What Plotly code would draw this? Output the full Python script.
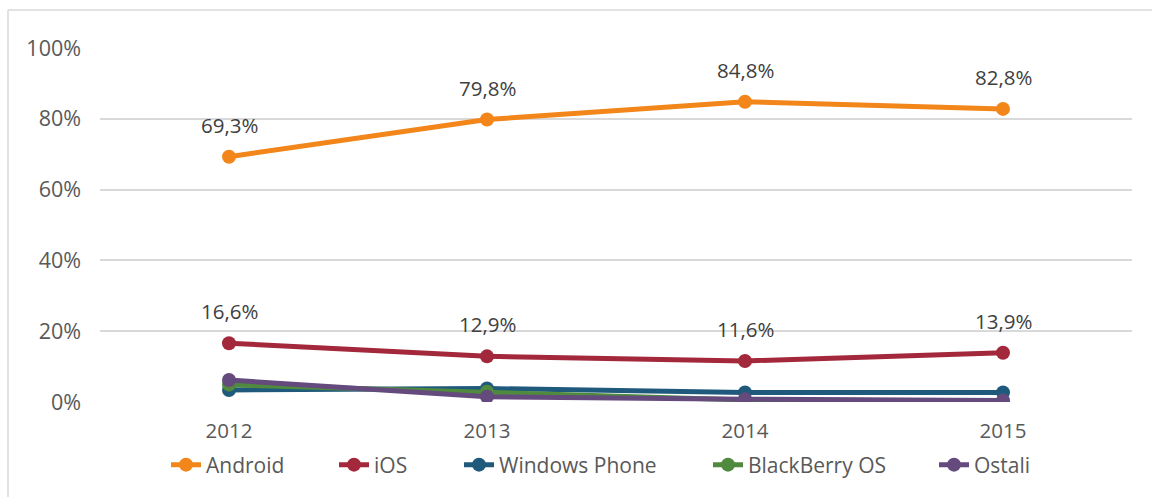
import plotly.graph_objects as go

years = ["2012", "2013", "2014", "2015"]
android = [69.3, 79.8, 84.8, 82.8]
ios = [16.6, 12.9, 11.6, 13.9]
windows_phone = [3.4, 3.8, 2.7, 2.7]
blackberry = [4.9, 2.9, 0.6, 0.3]
ostali = [6.2, 1.5, 0.8, 0.4]

series_names = ["Android", "iOS", "Windows Phone", "BlackBerry OS", "Ostali"]
series_values = [android, ios, windows_phone, blackberry, ostali]
series_colors = ["#F2861A", "#A3283B", "#1F5A7C", "#4F8A3E", "#654A7D"]
series_labeled = [True, True, False, False, False]
# left pixel where each legend entry's text begins
legend_text_x = [208, 376, 501, 750, 976]

L, R, T, B = 100, 20, 48, 95
W, H = 1152, 497
pw, ph = W - L - R, H - T - B

fig = go.Figure()
annotations = []
legend_layouts = {}
for k, (name, vals, color, labeled) in enumerate(
        zip(series_names, series_values, series_colors, series_labeled)):
    lg = "legend" if k == 0 else f"legend{k + 1}"
    fig.add_trace(go.Scatter(
        x=list(range(len(years))), y=[v / 100 for v in vals], name=name,
        mode="lines+markers",
        line=dict(color=color, width=5),
        marker=dict(color=color, size=14),
        hoverinfo="skip", legend=lg,
    ))
    legend_layouts[lg] = dict(
        orientation="h", x=(legend_text_x[k] - 42 - L) / pw, xanchor="left",
        y=(402 - 465) / ph, yanchor="middle",
        bgcolor="rgba(0,0,0,0)",
        font=dict(family="Open Sans", size=21, color="#595959"),
    )
    if labeled:
        for i, v in enumerate(vals):
            annotations.append(dict(
                x=i, y=v / 100, xref="x", yref="y",
                text=f"{v:.1f}%".replace(".", ","),
                showarrow=False, yshift=32,
                font=dict(family="Open Sans", size=20.5, color="#404040"),
            ))

fig.update_layout(
    width=W, height=H,
    margin=dict(l=L, r=R, t=T, b=B),
    paper_bgcolor="white", plot_bgcolor="white",
    annotations=annotations,
    showlegend=True,
    xaxis=dict(
        range=[-0.5, 3.5], tickmode="array",
        tickvals=list(range(len(years))), ticktext=years,
        showgrid=False, zeroline=False, showline=False, ticks="",
        ticklabelstandoff=14,
        tickfont=dict(family="Open Sans", size=20.5, color="#595959"),
        fixedrange=True,
    ),
    yaxis=dict(
        range=[0, 1], tickvals=[0, 0.2, 0.4, 0.6, 0.8, 1.0],
        tickformat=".0%", showgrid=True, gridcolor="#D9D9D9", gridwidth=1.5,
        zeroline=False, showline=False, ticks="",
        ticklabelstandoff=18,
        tickfont=dict(family="Open Sans", size=21.5, color="#595959"),
        fixedrange=True,
    ),
    shapes=[
        dict(type="line", xref="paper", yref="paper",
             x0=(8 - L) / pw, x1=(W + 5 - L) / pw,
             y0=1 + (T - 10) / ph, y1=1 + (T - 10) / ph,
             line=dict(color="#D9D9D9", width=1.5)),
        dict(type="line", xref="paper", yref="paper",
             x0=(8 - L) / pw, x1=(8 - L) / pw,
             y0=1 + (T - 10) / ph, y1=-(B + 5) / ph,
             line=dict(color="#D9D9D9", width=1.5)),
    ],
    **legend_layouts,
)

fig.write_html("out.html")
